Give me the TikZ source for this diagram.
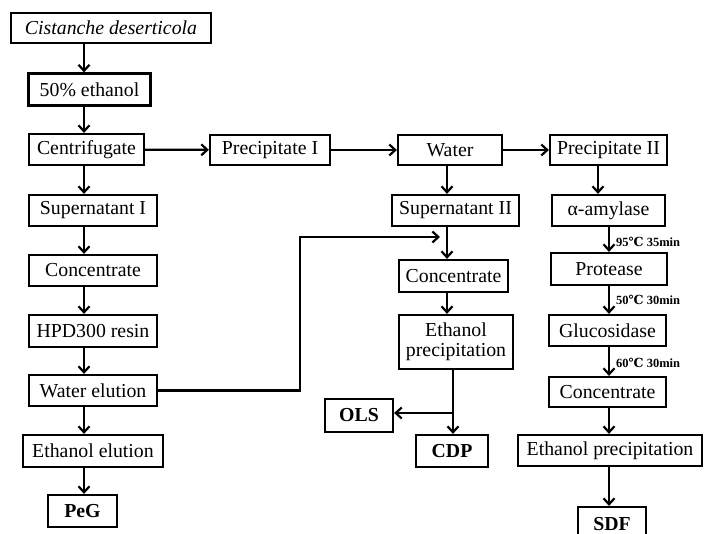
\documentclass[tikz,border=0pt]{standalone}
\usepackage{fontspec}
\setmainfont{Liberation Serif}
\newfontfamily\degfont{DejaVu Serif}
\usetikzlibrary{positioning, arrows.meta}

\begin{document}
\begin{tikzpicture}[
        x=1pt, y=-1pt,
        base/.style={draw, line width=2.2pt, align=center, inner sep=1pt, minimum height=31pt, font=\fontsize{19.8}{21}\selectfont},
        prod/.style={base, font=\fontsize{19.8}{21}\selectfont\bfseries},
        cond/.style={anchor=west, inner sep=0pt, font=\fontsize{12.5}{13}\selectfont\bfseries},
        arr/.style={-{Straight Barb[length=6pt, width=11pt]}, line width=2.2pt}
    ]
    \useasboundingbox (0,0) rectangle (704,534);

    % left column
    \node[base, minimum width=200pt, minimum height=30pt] (cis) at (111,28) {\itshape Cistanche deserticola};
    \node[base, minimum width=122pt, minimum height=32pt] (eth50) at (89.5,89.5) {50\% ethanol};
    \node[base, minimum width=115pt] (cent) at (86.5,149.5) {Centrifugate};
    \node[base, minimum width=128pt] (sup1) at (93,210.5) {Supernatant I};
    \node[base, minimum width=128pt] (conc1) at (93,270.5) {Concentrate};
    \node[base, minimum width=128pt, minimum height=32pt] (hpd) at (93,331) {HPD300 resin};
    \node[base, minimum width=128pt] (welu) at (93,390.5) {Water elution};
    \node[base, minimum width=140pt, minimum height=32pt] (eelu) at (93,451) {Ethanol elution};
    \node[prod, minimum width=69pt, minimum height=32pt] (peg) at (82.5,511) {PeG};

    % middle column
    \node[base, minimum width=120pt, minimum height=30pt] (prec1) at (270,150) {Precipitate I};
    \node[base, minimum width=104pt, minimum height=30pt] (water) at (450,150) {Water};
    \node[base, minimum width=127pt] (sup2) at (455.5,210.5) {Supernatant II};
    \node[base, minimum width=109pt, minimum height=32pt] (conc2) at (453.5,276) {Concentrate};
    \node[base, minimum width=114pt, minimum height=54pt] (ethp2) at (456,342) {Ethanol\\[-1pt]precipitation};
    \node[prod, minimum width=68pt, minimum height=33pt] (ols) at (359,415.5) {OLS};
    \node[prod, minimum width=72pt, minimum height=32pt] (cdp) at (452,451) {CDP};

    % right column
    \node[base, minimum width=117pt, minimum height=30pt] (prec2) at (608.5,150) {Precipitate II};
    \node[base, minimum width=113pt] (amyl) at (608.5,210.5) {α-amylase};
    \node[base, minimum width=116pt, minimum height=32pt] (prot) at (609,269) {Protease};
    \node[base, minimum width=117pt] (gluc) at (607.5,330.5) {Glucosidase};
    \node[base, minimum width=117pt, minimum height=30pt] (conc3) at (607.5,392) {Concentrate};
    \node[base, minimum width=184pt] (ethp3) at (610,450.5) {Ethanol precipitation};
    \node[prod, minimum width=68pt, minimum height=34pt] (sdf) at (612,524) {SDF};

    \node[cond] (t1) at (616,242) {95{\degfont ℃} 35min};
    \node[cond] (t2) at (616,300) {50{\degfont ℃} 30min};
    \node[cond] (t3) at (616,363) {60{\degfont ℃} 30min};

    \coordinate (colA) at (84,0);
    \coordinate (colB) at (447,0);
    \coordinate (colC) at (453,0);
    \coordinate (colD) at (598,0);
    \coordinate (colE) at (609,0);
    \coordinate (bend) at (300,237);
    \coordinate (join) at (440,237);
    \coordinate (split) at (453,413);

    \draw[arr] (cis.south -| colA) -- (eth50.north -| colA);
    \draw[arr] (eth50.south -| colA) -- (cent.north -| colA);
    \draw[arr] (cent.south -| colA) -- (sup1.north -| colA);
    \draw[arr] (sup1.south -| colA) -- (conc1.north -| colA);
    \draw[arr] (conc1.south -| colA) -- (hpd.north -| colA);
    \draw[arr] (hpd.south -| colA) -- (welu.north -| colA);
    \draw[arr] (welu.south -| colA) -- (eelu.north -| colA);
    \draw[arr] (eelu.south -| colA) -- (peg.north -| colA);

    \draw[arr] (cent) -- (prec1);
    \draw[arr] (prec1) -- (water);
    \draw[arr] (water) -- (prec2);

    \draw[arr] (water.south -| colB) -- (sup2.north -| colB);
    \draw[arr] (sup2.south -| colB) -- (conc2.north -| colB);
    \draw[arr] (welu.east) -| (bend) -- (join);
    \draw[arr] (conc2.south -| colB) -- (ethp2.north -| colB);
    \draw[arr] (ethp2.south -| colC) -- (cdp.north -| colC);
    \draw[arr] (split) -- (ols.east |- split);

    \draw[arr] (prec2.south -| colD) -- (amyl.north -| colD);
    \draw[arr] (amyl.south -| colE) -- (prot.north -| colE);
    \draw[arr] (prot.south -| colE) -- (gluc.north -| colE);
    \draw[arr] (gluc.south -| colE) -- (conc3.north -| colE);
    \draw[arr] (conc3.south -| colE) -- (ethp3.north -| colE);
    \draw[arr] (ethp3.south -| colE) -- (sdf.north -| colE);
\end{tikzpicture}
\end{document}
